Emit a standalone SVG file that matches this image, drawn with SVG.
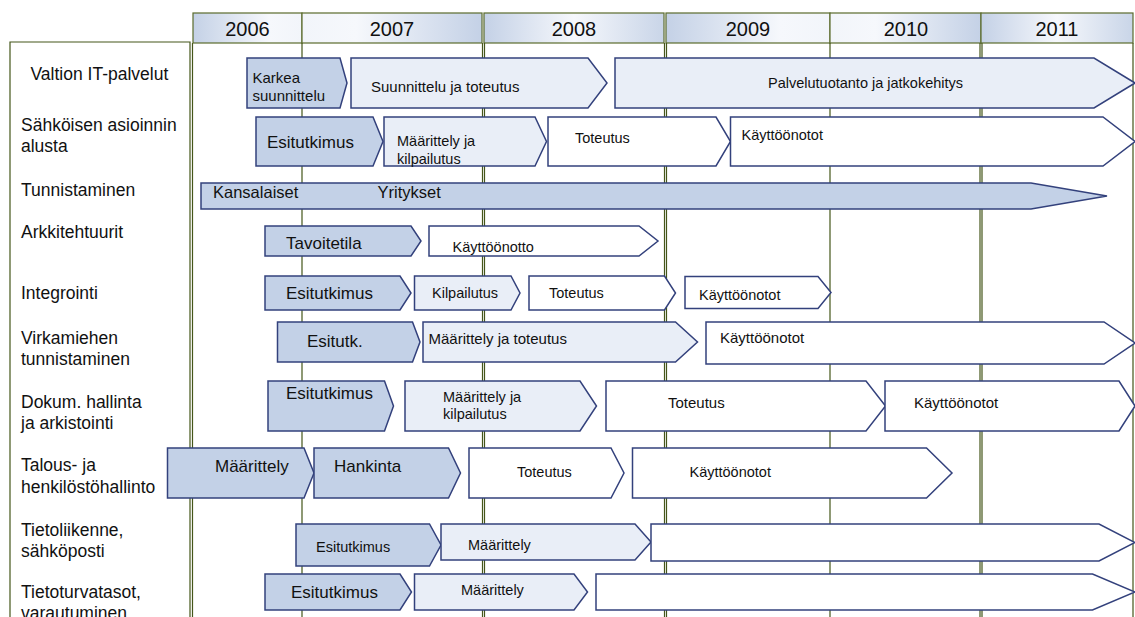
<svg xmlns="http://www.w3.org/2000/svg" width="1135" height="617" viewBox="0 0 1135 617">
  <defs>
    <linearGradient id="gEdge" x1="0" y1="0" x2="1" y2="0">
      <stop offset="0" stop-color="#c4d1e6"/>
      <stop offset="0.5" stop-color="#f6f8fc"/>
      <stop offset="1" stop-color="#c9d5e8"/>
    </linearGradient>
    <linearGradient id="gLeft" x1="0" y1="0" x2="1" y2="0">
      <stop offset="0" stop-color="#c4d1e6"/>
      <stop offset="0.7" stop-color="#f6f8fc"/>
      <stop offset="1" stop-color="#f2f5fa"/>
    </linearGradient>
    <linearGradient id="gRight" x1="0" y1="0" x2="1" y2="0">
      <stop offset="0" stop-color="#f2f5fa"/>
      <stop offset="0.3" stop-color="#f6f8fc"/>
      <stop offset="1" stop-color="#c4d1e6"/>
    </linearGradient>
    <style>
      text { font-family: "Liberation Sans", Arial, sans-serif; fill: #111; }
      .lbl { font-size: 17.5px; }
      .yr { font-size: 20px; text-anchor: middle; }
      .t17 { font-size: 17px; }
      .t16 { font-size: 16.5px; }
      .t15 { font-size: 15px; }
      .t14 { font-size: 14.5px; }
      .cell { stroke: #5a6b2c; stroke-width: 1.2; }
      .grid { stroke: #45561a; stroke-width: 1.2; fill: none; }
      .ph path { stroke: #33417c; stroke-width: 1.5; stroke-linejoin: miter; }
      .blue { fill: #c3d1e7; }
      .light { fill: #e9eef7; }
      .white { fill: #ffffff; }
    </style>
  </defs>

  <rect width="1135" height="617" fill="#ffffff"/>

  <!-- year header -->
  <g id="header">
    <rect class="cell" x="193" y="13" width="109" height="30" fill="url(#gLeft)"/>
    <rect class="cell" x="302" y="13" width="180" height="30" fill="url(#gRight)"/>
    <rect class="cell" x="484" y="13" width="180" height="30" fill="url(#gEdge)"/>
    <rect class="cell" x="666" y="13" width="164" height="30" fill="url(#gLeft)"/>
    <rect class="cell" x="830" y="13" width="151" height="30" fill="url(#gRight)"/>
    <rect class="cell" x="981" y="13" width="152" height="30" fill="url(#gEdge)"/>
    <text class="yr" x="247.5" y="36">2006</text>
    <text class="yr" x="392" y="36">2007</text>
    <text class="yr" x="574" y="36">2008</text>
    <text class="yr" x="748" y="36">2009</text>
    <text class="yr" x="906" y="36">2010</text>
    <text class="yr" x="1057" y="36">2011</text>
  </g>

  <!-- row label column -->
  <g id="labels">
    <path class="grid" d="M10 620 V42 H190 V620"/>
    <text class="lbl" x="30.5" y="80">Valtion IT-palvelut</text>
    <text class="lbl" x="21" y="131">Sähköisen asioinnin</text>
    <text class="lbl" x="21" y="152">alusta</text>
    <text class="lbl" x="21" y="196">Tunnistaminen</text>
    <text class="lbl" x="21" y="238">Arkkitehtuurit</text>
    <text class="lbl" x="21" y="299">Integrointi</text>
    <text class="lbl" x="21" y="344">Virkamiehen</text>
    <text class="lbl" x="21" y="365">tunnistaminen</text>
    <text class="lbl" x="21" y="408">Dokum. hallinta</text>
    <text class="lbl" x="21" y="429">ja arkistointi</text>
    <text class="lbl" x="21" y="471">Talous- ja</text>
    <text class="lbl" x="21" y="493">henkilöstöhallinto</text>
    <text class="lbl" x="21" y="536">Tietoliikenne,</text>
    <text class="lbl" x="21" y="557">sähköposti</text>
    <text class="lbl" x="21" y="598">Tietoturvatasot,</text>
    <text class="lbl" x="21" y="619">varautuminen</text>
  </g>

  <!-- year dividers running down the chart -->
  <g id="connectors">
    <path class="grid" d="M192.5 43 V617 M302 43 V617 M482.5 43 V617 M484.5 43 V617 M664.5 43 V617 M666.5 43 V617 M830 43 V617 M980 43 V617 M982 43 V617 M1133 43 V617"/>
  </g>

  <!-- phases -->
  <g class="ph">
    <g id="r1-karkea"><path class="blue" d="M247 58 H340 L347 83 L340 108 H247 Z"/>
      <text class="t15" x="252.5" y="83">Karkea</text><text class="t15" x="252.5" y="101">suunnittelu</text></g>
    <g id="r1-suunnittelu"><path class="light" d="M351 58 H588 L607 83 L588 108 H351 Z"/>
      <text class="t15" x="371" y="92">Suunnittelu ja toteutus</text></g>
    <g id="r1-palvelutuotanto"><path class="light" d="M615 58 H1094 L1135 83 L1094 108 H615 Z"/>
      <text class="t14" x="768" y="88">Palvelutuotanto ja jatkokehitys</text></g>

    <g id="r2-esitutkimus"><path class="blue" d="M256 117 H373 L383 141.5 L373 166 H256 Z"/>
      <text class="t17" x="267" y="148">Esitutkimus</text></g>
    <g id="r2-maarittely"><path class="light" d="M384 117 H535 L546.5 141.5 L535 166 H384 Z"/>
      <text class="t14" x="397" y="146">Määrittely ja</text><text class="t14" x="397" y="163.5">kilpailutus</text></g>
    <g id="r2-toteutus"><path class="white" d="M548 117 H716 L730.5 141.5 L716 166 H548 Z"/>
      <text class="t14" x="575" y="142.5">Toteutus</text></g>
    <g id="r2-kayttoonotot"><path class="white" d="M730.5 117 H1103 L1135 141.5 L1103 166 H730.5 Z"/>
      <text class="t14" x="741.5" y="140">Käyttöönotot</text></g>

    <g id="r3-tunnistaminen"><path class="blue" d="M201 183 H1031 L1107 196 L1031 209 H201 Z"/>
      <text class="t16" x="213" y="198">Kansalaiset</text><text class="t16" x="377.5" y="198">Yritykset</text></g>

    <g id="r4-tavoitetila"><path class="blue" d="M265 226 H411 L421 241 L411 256 H265 Z"/>
      <text class="t17" x="286" y="248.5">Tavoitetila</text></g>
    <g id="r4-kayttoonotto"><path class="white" d="M429 226 H639 L658 241 L639 256 H429 Z"/>
      <text class="t14" x="452.5" y="251.5">Käyttöönotto</text></g>

    <g id="r5-esitutkimus"><path class="blue" d="M265 276 H400 L411 293 L400 310 H265 Z"/>
      <text class="t17" x="286" y="299">Esitutkimus</text></g>
    <g id="r5-kilpailutus"><path class="light" d="M414.5 276 H511 L520 293 L511 310 H414.5 Z"/>
      <text class="t14" x="432" y="298">Kilpailutus</text></g>
    <g id="r5-toteutus"><path class="white" d="M529 276 H664.5 L675.5 293 L664.5 310 H529 Z"/>
      <text class="t14" x="549" y="298">Toteutus</text></g>
    <g id="r5-kayttoonotot"><path class="white" d="M685 276.5 H818 L831 292.5 L818 308.5 H685 Z"/>
      <text class="t14" x="699" y="300">Käyttöönotot</text></g>

    <g id="r6-esitutk"><path class="blue" d="M277.5 322 H412.5 L420 342 L412.5 362 H277.5 Z"/>
      <text class="t17" x="307" y="346.5">Esitutk.</text></g>
    <g id="r6-maarittely"><path class="light" d="M423 322 H675.5 L697.5 342 L675.5 362 H423 Z"/>
      <text class="t15" x="428.5" y="343.5">Määrittely ja toteutus</text></g>
    <g id="r6-kayttoonotot"><path class="white" d="M706 322 H1104 L1135 343 L1104 364 H706 Z"/>
      <text class="t15" x="720" y="343">Käyttöönotot</text></g>

    <g id="r7-esitutkimus"><path class="blue" d="M268 381 H384.5 L393.5 406 L384.5 431 H268 Z"/>
      <text class="t17" x="286" y="399">Esitutkimus</text></g>
    <g id="r7-maarittely"><path class="light" d="M405 381 H580 L596.5 406 L580 431 H405 Z"/>
      <text class="t14" x="443" y="402">Määrittely ja</text><text class="t14" x="443" y="419">kilpailutus</text></g>
    <g id="r7-toteutus"><path class="white" d="M606 381 H866 L885.5 406 L866 431 H606 Z"/>
      <text class="t15" x="668" y="408">Toteutus</text></g>
    <g id="r7-kayttoonotot"><path class="white" d="M885 381 H1119 L1135 406 L1119 431 H885 Z"/>
      <text class="t15" x="914" y="408">Käyttöönotot</text></g>

    <g id="r8-maarittely"><path class="blue" d="M167.5 448 H304 L314 473 L304 498 H167.5 Z"/>
      <text class="t17" x="215" y="472">Määrittely</text></g>
    <g id="r8-hankinta"><path class="blue" d="M314 448 H448.5 L460.5 473 L448.5 498 H314 Z"/>
      <text class="t17" x="334" y="472">Hankinta</text></g>
    <g id="r8-toteutus"><path class="white" d="M469 448 H611 L624 473 L611 498 H469 Z"/>
      <text class="t14" x="517" y="477">Toteutus</text></g>
    <g id="r8-kayttoonotot"><path class="white" d="M632.5 448 H926.5 L952 473 L926.5 498 H632.5 Z"/>
      <text class="t14" x="689.5" y="477">Käyttöönotot</text></g>

    <g id="r9-esitutkimus"><path class="blue" d="M296 524 H429.5 L441 545 L429.5 566 H296 Z"/>
      <text class="t14" x="316" y="552">Esitutkimus</text></g>
    <g id="r9-maarittely"><path class="light" d="M441 524 H635 L651 542 L635 560 H441 Z"/>
      <text class="t14" x="468" y="549.5">Määrittely</text></g>
    <g id="r9-jatko"><path class="white" d="M651 524 H1099 L1135 542.5 L1099 561 H651 Z"/></g>

    <g id="r10-esitutkimus"><path class="blue" d="M265 574 H400 L411.5 592 L400 610 H265 Z"/>
      <text class="t17" x="291" y="598">Esitutkimus</text></g>
    <g id="r10-maarittely"><path class="light" d="M414.5 574 H574 L587.5 592 L574 610 H414.5 Z"/>
      <text class="t14" x="461" y="594.5">Määrittely</text></g>
    <g id="r10-jatko"><path class="white" d="M596 574 H1092.5 L1135 592 L1092.5 610 H596 Z"/></g>
  </g>
</svg>
